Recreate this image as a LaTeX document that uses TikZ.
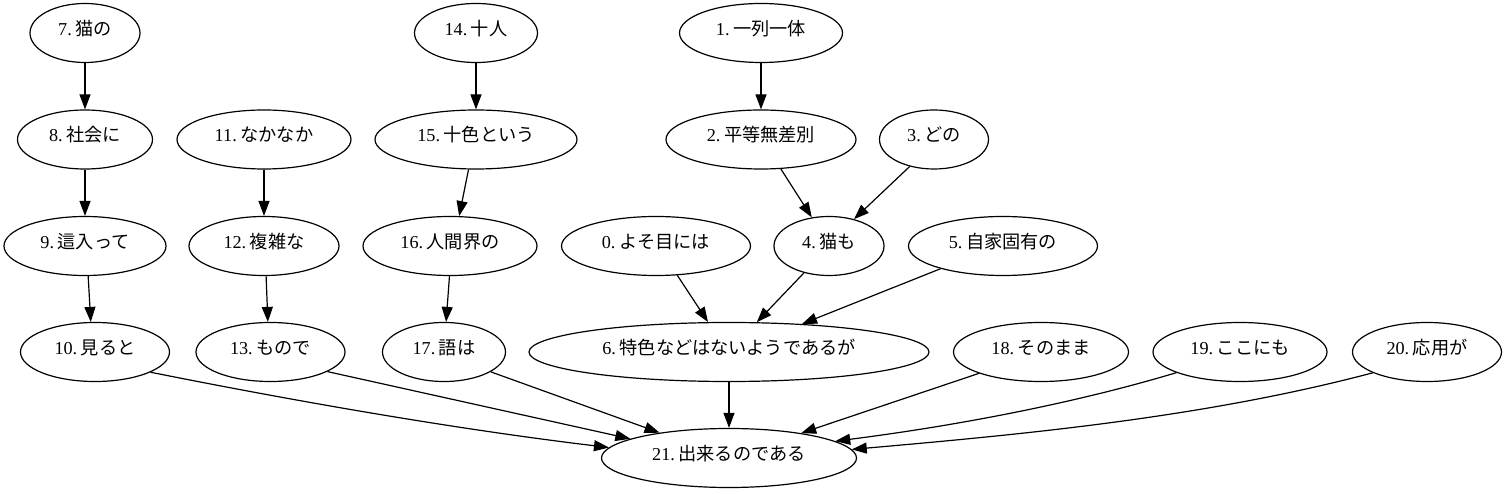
\documentclass[tikz,border=0pt]{standalone}
\usepackage{fontspec}
\setmainfont{Liberation Serif}
\newfontfamily\cjk{Noto Sans CJK JP}
\usetikzlibrary{shapes.geometric,arrows.meta}
\newcommand\lbl[2]{#1\hspace{0.2em}{\cjk #2}}
\begin{document}
\begin{tikzpicture}[x=1pt,y=1pt,
  gv/.style={ellipse,draw,line width=1.2pt,inner sep=0pt,minimum height=59pt,
    text height=14pt,text depth=9pt,font=\fontsize{18.2}{22}\selectfont},
  conn/.style={-{Triangle[length=15pt,width=11pt]},line width=1.2pt}]
\useasboundingbox (0,0) rectangle (1508,493);
\node[gv,minimum width=110pt] (n7) at (85,460) {\lbl{7.}{猫の}};
\node[gv,minimum width=123pt] (n14) at (476,460) {\lbl{14.}{十人}};
\node[gv,minimum width=163pt] (n1) at (761,460) {\lbl{1.}{一列一体}};
\node[gv,minimum width=135pt] (n8) at (85,353.5) {\lbl{8.}{社会に}};
\node[gv,minimum width=174pt] (n11) at (264,353.5) {\lbl{11.}{なかなか}};
\node[gv,minimum width=202pt] (n15) at (476,353.5) {\lbl{15.}{十色という}};
\node[gv,minimum width=190pt] (n2) at (761,353.5) {\lbl{2.}{平等無差別}};
\node[gv,minimum width=109pt] (n3) at (934,353.5) {\lbl{3.}{どの}};
\node[gv,minimum width=162pt] (n9) at (85,247) {\lbl{9.}{這入って}};
\node[gv,minimum width=150pt] (n12) at (264,247) {\lbl{12.}{複雑な}};
\node[gv,minimum width=174pt] (n16) at (450,247) {\lbl{16.}{人間界の}};
\node[gv,minimum width=189pt] (n0) at (656,247) {\lbl{0.}{よそ目には}};
\node[gv,minimum width=110pt] (n4) at (829,247) {\lbl{4.}{猫も}};
\node[gv,minimum width=189pt] (n5) at (1003,247) {\lbl{5.}{自家固有の}};
\node[gv,minimum width=149pt] (n10) at (95,141) {\lbl{10.}{見ると}};
\node[gv,minimum width=149pt] (n13) at (270.5,141) {\lbl{13.}{もので}};
\node[gv,minimum width=123pt] (n17) at (444,141) {\lbl{17.}{語は}};
\node[gv,minimum width=400pt] (n6) at (729,141) {\lbl{6.}{特色などはないようであるが}};
\node[gv,minimum width=175pt] (n18) at (1041,141) {\lbl{18.}{そのまま}};
\node[gv,minimum width=174pt] (n19) at (1240,141) {\lbl{19.}{ここにも}};
\node[gv,minimum width=149pt] (n20) at (1427,141) {\lbl{20.}{応用が}};
\node[gv,minimum width=255pt] (n21) at (729,35) {\lbl{21.}{出来るのである}};
\draw[conn] (n7.south) -- (n8.north);
\draw[conn] (n8.south) -- (n9.north);
\draw[conn] (n11.south) -- (n12.north);
\draw[conn] (n14.south) -- (n15.north);
\draw[conn] (n15.-104) -- (n16.73);
\draw[conn] (n1.south) -- (n2.north);
\draw[conn] (n2.-56) -- (n4.121);
\draw[conn] (n3.-132) -- (n4.47);
\draw[conn] (n9.-84) -- (n10.98);
\draw[conn] (n12.-86) -- (n13.95);
\draw[conn] (n16.-91) -- (n17.86);
\draw[conn] (n0.-54) -- (n6.125);
\draw[conn] (n4.-133) -- (n6.47);
\draw[conn] (n5.-160) -- (n6.21);
\draw[conn] (n6.south) -- (n21.north);
\draw[conn] (n17.-23.5) -- (n21.160);
\draw[conn] (n13.-19) -- (n21.169.5);
\draw[conn] (n10.-20) .. controls +(150,-30) and +(-150,18) .. (n21.175);
\draw[conn] (n18.-161) -- (n21.19);
\draw[conn] (n19.-162) .. controls +(-110,-33) and +(110,14) .. (n21.9);
\draw[conn] (n20.-159) .. controls +(-170,-45) and +(170,15) .. (n21.4);
\end{tikzpicture}
\end{document}
